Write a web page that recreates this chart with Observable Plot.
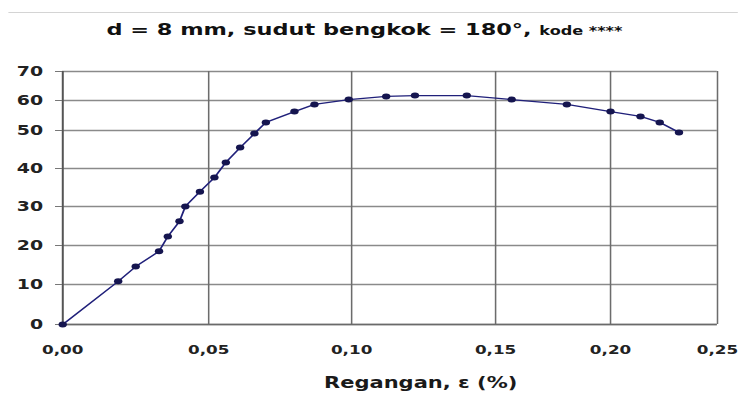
<!DOCTYPE html>
<html>
<head>
<meta charset="utf-8">
<script src="https://cdn.jsdelivr.net/npm/d3@7"></script>
<script src="https://cdn.jsdelivr.net/npm/@observablehq/plot@0.6"></script>
<style>
  html, body { margin: 0; padding: 0; background: #fff; width: 738px; height: 406px; overflow: hidden; }
  #wrap { position: relative; width: 527px; transform: scaleX(1.4); transform-origin: 0 0; font-family: "DejaVu Sans", sans-serif; color: #111; }
  #topline { position: absolute; top: 12px; left: 6px; width: 521px; height: 1px; background: #d4d4d4; }
  #title { height: 50px; box-sizing: border-box; padding-top: 20px; padding-left: 76px; white-space: nowrap; font-weight: bold; font-size: 16px; line-height: 20px; }
  #title .small { font-size: 11.5px; }
  #xlabel { width: 601px; text-align: center; font-weight: bold; font-size: 15px; line-height: 30px; height: 30px; color: #1a1a1a; }
  svg { display: block; overflow: visible; }
</style>
</head>
<body>
<div id="wrap">
  <div id="topline"></div>
  <div id="title">d = 8 mm, sudut bengkok = 180°, <span class="small">kode ****</span></div>
  <div id="chart"></div>
  <div id="xlabel">Regangan, ε (%)</div>
</div>
<script>
// Data
const strain = [0, 0.019, 0.025, 0.033, 0.036, 0.040, 0.042, 0.047, 0.052, 0.056, 0.061, 0.066, 0.070, 0.080, 0.087, 0.099, 0.112, 0.122, 0.140, 0.157, 0.181, 0.200, 0.214, 0.223, 0.232];
const stress = [0, 10.8, 14.6, 18.5, 22.3, 26.2, 30.0, 33.9, 37.6, 41.6, 45.5, 49.2, 52.7, 56.3, 58.7, 60.3, 61.4, 61.7, 61.7, 60.3, 58.7, 56.3, 54.7, 52.7, 49.5];
const xTicks = [0, 0.05, 0.10, 0.15, 0.20, 0.25];
const xTickLabels = ["0,00", "0,05", "0,10", "0,15", "0,20", "0,25"];
const yTicks = [0, 10, 20, 30, 40, 50, 60, 70];

const data = strain.map((x, i) => ({x, y: stress[i]}));

// The scanned reference has unevenly spaced gridlines; these warps reproduce that spacing.
const xWarp = d3.scaleLinear().domain(xTicks).range([0, 0.05573, 0.11031, 0.16527, 0.20916, 0.25]);
const yWarp = d3.scaleLinear().domain(yTicks).range([0, 11.07, 21.86, 32.65, 43.16, 53.68, 61.98, 70]);

const chart = Plot.plot({
  width: 527,
  height: 318,
  marginLeft: 44.3,
  marginRight: 15,
  marginTop: 21,
  marginBottom: 44,
  style: {fontFamily: "DejaVu Sans", fontWeight: "bold", fontSize: "13px", color: "#222", background: "#fff", overflow: "visible"},
  x: {type: "linear", domain: [0, 0.25], transform: v => xWarp(v), label: null},
  y: {type: "linear", domain: [0, 70], transform: v => yWarp(v), label: null},
  marks: [
    Plot.gridY(yTicks, {stroke: "#8a8a8a", strokeOpacity: 1, strokeWidth: 1.4}),
    Plot.gridX(xTicks, {stroke: "#6c6c6c", strokeOpacity: 1, strokeWidth: 1.1}),
    Plot.ruleY([0], {stroke: "#6a6a6a", strokeWidth: 1.6}),
    Plot.ruleX([0], {stroke: "#555", strokeWidth: 1.3}),
    Plot.axisY(yTicks, {tickSize: 5, tickPadding: 9, stroke: "#777", fontSize: 13.5, label: null, tickFormat: d => String(d)}),
    Plot.axisX(xTicks, {tickSize: 0, tickPadding: 21, fontSize: 12, label: null, tickFormat: d => xTickLabels[xTicks.indexOf(d)]}),
    Plot.line(data, {x: "x", y: "y", stroke: "#20207a", strokeWidth: 1.3}),
    Plot.dot(data, {x: "x", y: "y", r: 3, fill: "#15154f", stroke: null})
  ]
});
document.getElementById("chart").appendChild(chart);
</script>
</body>
</html>
